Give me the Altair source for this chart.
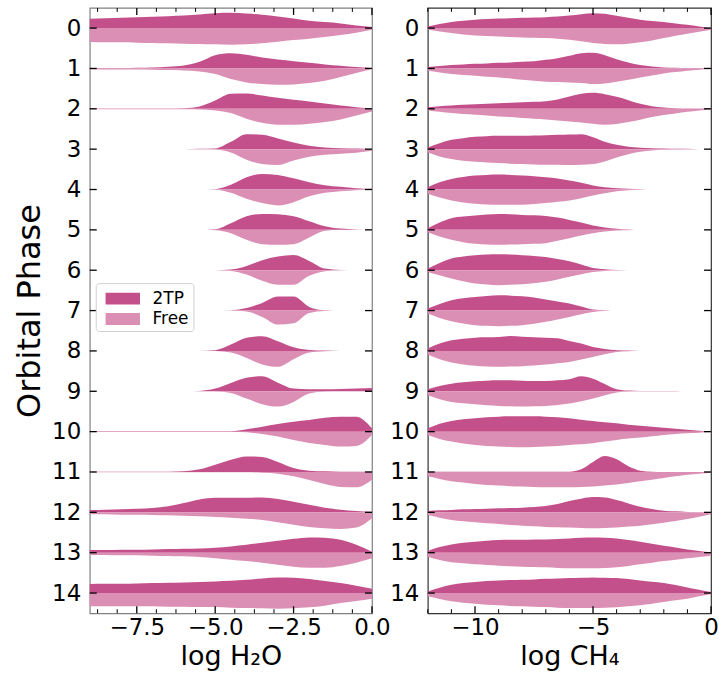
import altair as alt
import pandas as pd

# ---------------- data ----------------
PHASES = list(range(15))
MODELS = ["2TP", "Free"]
COLORS = ["#c4508b", "#dc8fb5"]

# x positions (log abundance) at which the violin half-widths were read
H2O_GRID = [-9.0, -8.5, -8.0, -7.5, -7.0, -6.5, -6.0, -5.5, -5.0, -4.5,
            -4.0, -3.5, -3.0, -2.5, -2.0, -1.5, -1.0, -0.5, 0.0]
CH4_GRID = [-12.0, -11.5, -11.0, -10.5, -10.0, -9.5, -9.0, -8.5, -8.0, -7.5,
            -7.0, -6.5, -6.0, -5.5, -5.0, -4.5, -4.0, -3.5, -3.0, -2.5,
            -2.0, -1.5, -1.0, -0.5, 0.0]

# relative density (half width of each violin side), one list per orbital phase
H2O_2TP = [
    [28, 30, 31, 33, 34, 36, 38, 41, 45, 46, 44, 40, 35, 29, 22, 18, 14, 8, 3],
    [1, 1, 1, 2, 3, 5, 9, 20, 40, 46, 41, 33, 27, 22, 17, 12, 8, 4, 1],
    [1, 1, 1, 1, 1, 1, 2, 7, 25, 45, 46, 40, 33, 27, 22, 16, 10, 5, 0],
    [0, 0, 0, 0, 0, 0, 0, 1, 2, 22, 45, 43, 32, 20, 10, 5, 3, 2, 0],
    [0, 0, 0, 0, 0, 0, 0, 0, 1, 14, 37, 47, 44, 34, 22, 13, 8, 4, 2],
    [0, 0, 0, 0, 0, 0, 0, 0, 2, 20, 41, 48, 47, 41, 26, 11, 4, 1, 0],
    [0, 0, 0, 0, 0, 0, 0, 0, 0, 2, 13, 30, 41, 46, 28, 5, 1, 0, 0],
    [0, 0, 0, 0, 0, 0, 0, 0, 0, 1, 8, 23, 42, 42, 11, 1, 0, 0, 0],
    [0, 0, 0, 0, 0, 0, 0, 0, 2, 19, 40, 44, 29, 11, 3, 1, 0, 0, 0],
    [0, 0, 0, 0, 0, 0, 0, 1, 8, 25, 41, 45, 26, 8, 6, 6, 7, 8, 10],
    [1, 1, 1, 1, 1, 1, 1, 1, 1, 1, 7, 15, 23, 30, 35, 42, 45, 45, 10],
    [1, 1, 1, 1, 1, 1, 2, 8, 22, 37, 47, 45, 30, 12, 4, 2, 1, 1, 1],
    [7, 8, 9, 11, 13, 18, 28, 39, 44, 44, 44, 45, 40, 32, 23, 14, 8, 4, 2],
    [8, 8, 9, 9, 10, 11, 12, 13, 15, 19, 24, 30, 36, 42, 46, 45, 39, 24, 3],
    [27, 28, 28, 29, 30, 31, 32, 33, 35, 37, 40, 44, 47, 46, 42, 36, 30, 22, 13],
]
H2O_FREE = [
    [42, 43, 43, 44, 45, 46, 47, 48, 49, 50, 49, 46, 41, 36, 32, 27, 21, 14, 5],
    [3, 3, 3, 3, 4, 5, 6, 9, 17, 32, 42, 47, 49, 48, 44, 37, 26, 14, 2],
    [1, 1, 1, 1, 1, 1, 1, 2, 5, 13, 30, 42, 48, 48, 45, 40, 32, 20, 8],
    [0, 0, 0, 0, 0, 0, 0, 0, 1, 10, 32, 45, 48, 34, 23, 17, 14, 11, 5],
    [0, 0, 0, 0, 0, 0, 0, 0, 1, 10, 28, 41, 48, 38, 20, 10, 5, 2, 1],
    [0, 0, 0, 0, 0, 0, 0, 0, 1, 10, 30, 43, 45, 43, 23, 3, 0, 0, 0],
    [0, 0, 0, 0, 0, 0, 0, 0, 0, 2, 13, 32, 44, 44, 17, 3, 0, 0, 0],
    [0, 0, 0, 0, 0, 0, 0, 0, 0, 0, 3, 19, 42, 38, 7, 1, 0, 0, 0],
    [0, 0, 0, 0, 0, 0, 0, 0, 0, 5, 21, 41, 48, 25, 5, 1, 0, 0, 0],
    [0, 0, 0, 0, 0, 0, 0, 0, 0, 5, 22, 39, 46, 32, 7, 1, 0, 0, 0],
    [0, 0, 0, 0, 0, 0, 0, 0, 0, 0, 2, 7, 15, 25, 34, 40, 45, 43, 10],
    [1, 1, 1, 1, 1, 1, 1, 1, 1, 1, 1, 2, 5, 13, 24, 36, 45, 46, 23],
    [6, 6, 7, 7, 8, 9, 10, 12, 14, 16, 19, 23, 30, 37, 44, 48, 50, 46, 18],
    [7, 7, 8, 8, 9, 10, 11, 13, 17, 21, 25, 30, 36, 42, 45, 45, 40, 30, 17],
    [40, 40, 40, 40, 40, 41, 41, 42, 42, 44, 45, 46, 47, 46, 43, 38, 30, 24, 17],
]
CH4_2TP = [
    [5, 12, 18, 22, 25, 27, 29, 30, 31, 32, 33, 35, 38, 42, 45, 43, 37, 31, 25, 21, 18, 14, 10, 5, 0],
    [4, 7, 10, 12, 14, 15, 17, 18, 20, 22, 26, 31, 38, 46, 47, 40, 28, 18, 10, 6, 3, 2, 1, 1, 0],
    [5, 8, 10, 12, 14, 15, 17, 18, 20, 21, 23, 28, 37, 45, 48, 44, 36, 26, 15, 8, 4, 2, 1, 1, 0],
    [5, 18, 28, 33, 37, 39, 40, 40, 40, 41, 42, 43, 44, 45, 36, 22, 13, 7, 4, 3, 2, 1, 1, 0, 0],
    [7, 22, 32, 38, 42, 44, 45, 44, 42, 40, 37, 33, 27, 20, 12, 7, 4, 2, 1, 0, 0, 0, 0, 0, 0],
    [5, 22, 35, 40, 43, 46, 48, 47, 45, 44, 42, 37, 30, 22, 13, 7, 3, 1, 0, 0, 0, 0, 0, 0, 0],
    [5, 22, 35, 41, 45, 47, 48, 47, 45, 43, 40, 34, 27, 17, 7, 3, 1, 0, 0, 0, 0, 0, 0, 0, 0],
    [6, 20, 31, 37, 41, 44, 46, 45, 43, 39, 33, 27, 21, 12, 3, 1, 0, 0, 0, 0, 0, 0, 0, 0, 0],
    [7, 22, 32, 37, 40, 41, 42, 45, 43, 41, 40, 38, 30, 22, 12, 6, 2, 1, 0, 0, 0, 0, 0, 0, 0],
    [6, 16, 23, 27, 30, 32, 33, 33, 32, 31, 31, 33, 36, 45, 38, 22, 6, 2, 1, 1, 1, 1, 0, 0, 0],
    [10, 24, 32, 37, 40, 43, 45, 46, 46, 46, 45, 43, 40, 36, 32, 28, 25, 21, 18, 15, 12, 9, 6, 3, 0],
    [1, 1, 1, 1, 1, 1, 1, 1, 1, 1, 1, 1, 1, 8, 30, 48, 38, 17, 4, 1, 0, 0, 0, 0, 0],
    [4, 6, 7, 9, 10, 11, 12, 13, 14, 16, 19, 25, 34, 41, 46, 45, 37, 27, 17, 10, 5, 3, 1, 0, 0],
    [5, 17, 25, 30, 33, 36, 38, 39, 39, 40, 40, 41, 43, 45, 46, 45, 43, 38, 33, 27, 21, 16, 10, 5, 1],
    [5, 16, 25, 30, 33, 36, 38, 39, 40, 41, 43, 44, 45, 46, 47, 46, 45, 42, 38, 34, 30, 24, 17, 10, 3],
]
CH4_FREE = [
    [5, 10, 15, 19, 22, 24, 25, 27, 28, 29, 30, 32, 35, 40, 45, 48, 49, 47, 43, 37, 30, 23, 17, 11, 5],
    [7, 12, 17, 20, 22, 25, 27, 30, 34, 37, 40, 41, 42, 44, 47, 45, 40, 34, 27, 21, 15, 11, 7, 4, 2],
    [5, 9, 13, 16, 18, 20, 23, 25, 28, 30, 32, 35, 38, 41, 45, 48, 46, 40, 33, 25, 19, 14, 9, 5, 2],
    [10, 22, 30, 35, 38, 40, 42, 44, 45, 46, 47, 47, 48, 47, 45, 37, 25, 15, 8, 4, 2, 1, 0, 0, 0],
    [13, 24, 33, 39, 43, 45, 46, 46, 46, 44, 41, 37, 33, 26, 18, 11, 5, 2, 1, 0, 0, 0, 0, 0, 0],
    [7, 20, 30, 37, 42, 44, 45, 44, 43, 42, 40, 33, 25, 17, 10, 5, 2, 1, 0, 0, 0, 0, 0, 0, 0],
    [5, 15, 25, 33, 40, 43, 45, 44, 42, 39, 35, 28, 20, 12, 5, 2, 1, 0, 0, 0, 0, 0, 0, 0, 0],
    [9, 22, 32, 39, 44, 46, 47, 46, 44, 40, 34, 27, 19, 11, 4, 1, 0, 0, 0, 0, 0, 0, 0, 0, 0],
    [11, 25, 35, 41, 45, 47, 48, 47, 46, 44, 41, 37, 33, 26, 18, 10, 3, 1, 0, 0, 0, 0, 0, 0, 0],
    [12, 24, 32, 36, 39, 42, 44, 45, 46, 45, 44, 41, 37, 30, 22, 12, 4, 1, 0, 0, 0, 0, 0, 0, 0],
    [10, 22, 30, 36, 40, 43, 45, 46, 47, 46, 45, 43, 40, 38, 35, 30, 25, 21, 18, 14, 10, 7, 5, 3, 1],
    [13, 21, 28, 32, 36, 39, 41, 43, 44, 45, 46, 46, 46, 45, 44, 41, 38, 33, 28, 23, 18, 13, 8, 5, 2],
    [8, 16, 23, 27, 30, 33, 35, 38, 40, 42, 44, 45, 46, 47, 48, 47, 46, 43, 40, 36, 31, 26, 20, 13, 6],
    [12, 22, 29, 32, 35, 37, 39, 41, 42, 43, 44, 46, 47, 47, 47, 46, 44, 40, 35, 30, 25, 21, 17, 13, 9],
    [10, 18, 25, 29, 32, 35, 37, 39, 40, 41, 42, 44, 45, 45, 45, 44, 43, 40, 37, 32, 27, 22, 17, 10, 3],
]

H2O_DOMAIN = [-9.0, 0.0]
CH4_DOMAIN = [-12.0, 0.0]
H2O_LABELS = [-7.5, -5.0, -2.5, 0.0]
CH4_LABELS = [-10, -5, 0]
H2O_MAJOR = [-7.5, -5.0, -2.5, 0.0]
H2O_MINOR = [-8.75, -8.125, -6.875, -6.25, -5.625, -4.375, -3.75, -3.125,
             -1.875, -1.25, -0.625]
CH4_MAJOR = [-10, -5, 0]
CH4_MINOR = [-12, -11, -9, -8, -7, -6, -4, -3, -2, -1]

# ---------------- layout / style ----------------
H = 607
HALF = 0.395 / 48.0  # phase units per density unit
FONT = "DejaVu Sans"
TICK_FS = 23
TITLE_FS = 27


def build_df(grid, d2tp, dfree):
    rows = []
    for model, data, sign in (("2TP", d2tp, -1.0), ("Free", dfree, 1.0)):
        for ph, dens in zip(PHASES, data):
            for x, d in zip(grid, dens):
                rows.append({"x": x, "model": model, "key": f"{model}-{ph}",
                             "center": float(ph), "edge": ph + sign * d * HALF})
    return pd.DataFrame(rows)


def panel(grid, d2tp, dfree, xdom, xlabels, xfmt, major, minor, xtitle,
          width, ytitle, frame, show_legend):
    df = build_df(grid, d2tp, dfree)
    xs = alt.Scale(domain=xdom, nice=False, zero=False)
    ys = alt.Scale(domain=[-0.5, 14.5], reverse=True, nice=False, zero=False)

    xaxis = alt.Axis(
        values=xlabels, format=xfmt, ticks=False, domain=False, grid=False,
        labelFlush=False, labelFontSize=TICK_FS, labelPadding=3,
        labelColor="black", labelFont=FONT, title=xtitle,
        titleFontSize=TITLE_FS, titleFontWeight="normal", titleFont=FONT,
        titleColor="black", titlePadding=4)
    yaxis_kw = dict(values=PHASES, format="d", ticks=False, domain=False,
                    grid=False, labelFlush=False, labelFontSize=TICK_FS,
                    labelPadding=9, labelColor="black", labelFont=FONT)
    if ytitle:
        yaxis_kw.update(title=ytitle, titleFontSize=32, titleFontWeight="normal",
                        titleFont=FONT, titleColor="black", titlePadding=5)
    else:
        yaxis_kw.update(title="")
    yaxis = alt.Axis(**yaxis_kw)

    color_kw = dict(scale=alt.Scale(domain=MODELS, range=COLORS))
    if show_legend:
        color_kw["legend"] = alt.Legend(
            title=None, orient="none", legendX=6, legendY=276,
            symbolType="M-0.49,-0.52L2.51,-0.52L2.51,0.52L-0.49,0.52Z",
            symbolSize=529, symbolStrokeWidth=0, symbolOpacity=1,
            labelFontSize=17, labelFont=FONT, labelColor="black",
            labelOffset=30, rowPadding=0.5, padding=4,
            fillColor="white", strokeColor="#d0d0d0", cornerRadius=3,
        )
    else:
        color_kw["legend"] = None

    xe = alt.X("x:Q", scale=xs, axis=xaxis)

    area = alt.Chart(df).mark_area(interpolate="monotone").encode(
        x=xe,
        y=alt.Y("edge:Q", scale=ys, axis=yaxis),
        y2=alt.Y2("center:Q"),
        color=alt.Color("model:N", **color_kw),
        detail=alt.Detail("key:N"),
    )

    maj = pd.DataFrame({"x": major})
    mnr = pd.DataFrame({"x": minor})
    yt = pd.DataFrame({"edge": PHASES})
    ye = alt.Y("edge:Q", scale=ys, axis=yaxis)
    layers = [
        alt.Chart(maj).mark_rule(color="black", strokeWidth=1.3).encode(
            x=xe, y=alt.value(0), y2=alt.value(7)),
        alt.Chart(maj).mark_rule(color="black", strokeWidth=1.3).encode(
            x=xe, y=alt.value(H), y2=alt.value(H - 7)),
        alt.Chart(mnr).mark_rule(color="black", strokeWidth=1.0).encode(
            x=xe, y=alt.value(0), y2=alt.value(4)),
        alt.Chart(mnr).mark_rule(color="black", strokeWidth=1.0).encode(
            x=xe, y=alt.value(H), y2=alt.value(H - 4)),
        alt.Chart(yt).mark_rule(color="black", strokeWidth=1.3).encode(
            y=ye, x=alt.value(0), x2=alt.value(7)),
        alt.Chart(yt).mark_rule(color="black", strokeWidth=1.3).encode(
            y=ye, x=alt.value(width), x2=alt.value(width - 7)),
    ]
    return alt.layer(area, *layers).properties(
        width=width, height=H,
        view=alt.ViewBackground(stroke=frame, strokeWidth=1.2),
    )


left = panel(H2O_GRID, H2O_2TP, H2O_FREE, H2O_DOMAIN, H2O_LABELS, ".1f",
             H2O_MAJOR, H2O_MINOR, "log H\u2082O", 283, "Orbital Phase",
             "#808080", True)
right = panel(CH4_GRID, CH4_2TP, CH4_FREE, CH4_DOMAIN, CH4_LABELS, "d",
              CH4_MAJOR, CH4_MINOR, "log CH\u2084", 284, None,
              "#333333", False)

chart = alt.hconcat(left, right, spacing=56, bounds="flush").resolve_scale(
    color="independent"
).properties(
    padding={"left": 13, "top": 5, "right": 0, "bottom": 2},
    background="white",
)

chart.save("out.html", embed_options={"renderer": "svg", "actions": False})
